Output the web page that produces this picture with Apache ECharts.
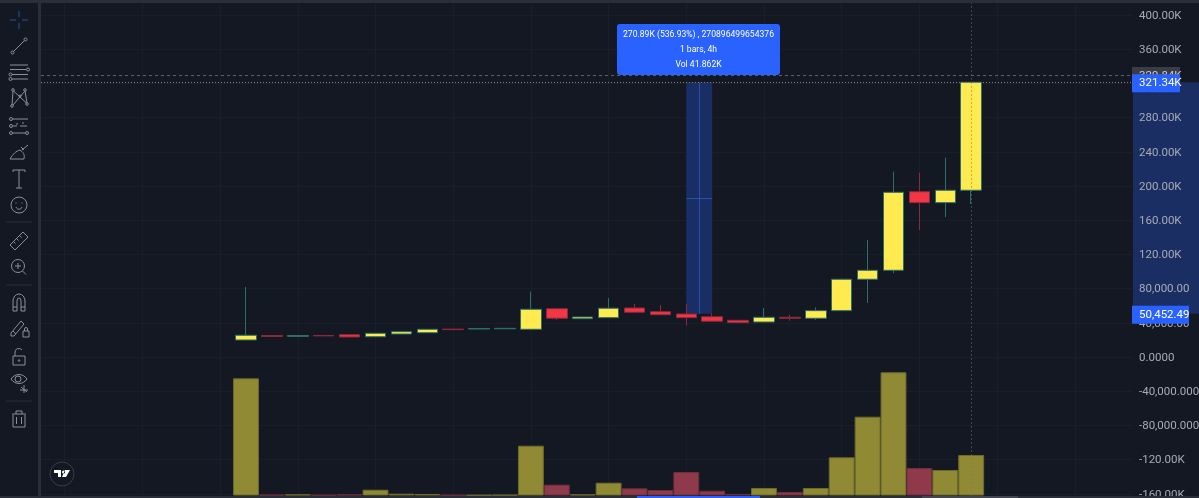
<!DOCTYPE html>
<html>
<head>
<meta charset="utf-8">
<style>html,body{margin:0;padding:0;background:#141823}#c{width:1199px;height:498px}</style>
<script src="https://cdn.jsdelivr.net/npm/echarts@6/dist/echarts.min.js"></script>
</head>
<body>
<div id="c"></div>
<script>
const opens  = [19900,25100,24300,25200,26100,23700,26900,28400,32600,32700,33000,32400,56500,44800,46000,57300,53000,50300,47100,42900,40900,46400,45300,54200,90900,101400,193300,180500,195000];
const closes = [25400,24100,25000,24700,23400,27700,29600,32400,32000,33300,33500,55800,45300,46800,57000,52300,49400,46000,41800,40100,46400,45300,54200,90900,101400,192600,180500,195000,321340];
const lows   = [19900,24000,24200,24600,23300,23600,26800,28300,31900,32600,32900,32200,43300,44700,45500,51500,49000,36600,41500,39900,40700,42500,43300,53800,63200,97900,148500,163400,179000];
const highs  = [81900,25300,25200,25400,26200,28000,29800,32600,32700,33400,33600,76400,57000,46900,69000,62000,60800,62000,51100,43200,57300,49500,58100,91500,136800,216700,215600,233100,321340];
const volumes= [208700,1400,2100,900,2100,10300,3200,2700,900,900,1200,88700,19200,2100,22800,12800,9800,41862,8500,2700,13400,6200,13400,68000,140300,219400,49000,45400,72100];
const gridTicks = [-160000,-120000,-80000,-40000,0,40000,80000,120000,160000,200000,240000,280000,320000,360000,400000];
const tickLabels = {'-160000':'-160.00K','-120000':'-120.00K','-80000':'-80,000.0000','-40000':'-40,000.0000','0':'0.0000','40000':'40,000.00','80000':'80,000.00','120000':'120.00K','160000':'160.00K','200000':'200.00K','240000':'240.00K','280000':'280.00K','360000':'360.00K','400000':'400.00K'};
const timeTicks = [-7,-4,-1,2,5,8,11,14,17,20,23,26,29,32];
const priceFlags = {329840:'329.84K',321340:'321.34K',50452.49:'50,452.49'};
const measureFrom = 50452.49, measureTo = 321340, measureBarA = 17, measureBarB = 18, cursorBar = 28;
const measureText = ['270.89K (536.93%) , 270896499654376','1 bars, 4h','Vol 41.862K'];

const BG='#141823', GRID='#1a1e29', ICON='#8b8f9a', SEP='#2a2e39', FONT='Roboto, "Open Sans", sans-serif';
const candleData = opens.map((o,i)=>[i,o,closes[i],lows[i],highs[i]]);
const volData = volumes.map((v,i)=>({value:[i,v],itemStyle:{color:closes[i]>=opens[i]?'#8f8a33':'#8e3a4b',borderColor:closes[i]>=opens[i]?'#6d6a2c':'#6e2f3d'}}));
const c=(x,y,r)=>`M${x-r} ${y}A${r} ${r} 0 1 0 ${x+r} ${y}A${r} ${r} 0 1 0 ${x-r} ${y}Z`;
const icons=[
 [20,'M0 -9V-3M0 3V9M-9 0H-3M3 0H9','#2a4fa8'],
 [46,c(-6.5,6.5,1.5)+c(6.5,-6.5,1.5)+'M-5.5 5.5L5.5 -5.5'],
 [72,'M-9 -7H9M-9 -2.5H7'+c(9,-2.5,1.5)+'M-7 2.5H9M-7 7H9'+c(-8.5,2.5,1.5)+c(-8.5,7,1.5)],
 [98,c(-6,-8,1.3)+c(6,-8,1.3)+c(-7,8,1.3)+c(8,6,1.3)+c(1,-2,1)+'M-6 -7L-7 7M-5.5 -7L7.5 5M6 -7L-6 7M6 -7L8 5'],
 [126,c(-8,-7,1.5)+'M-6.5 -7H9'+c(-8,0,1.5)+'M-6 0H-2M1 0H8'+c(-8,7,1.5)+c(8,7,1.5)+'M-6.5 7H6.5M-3 -2L-1 -2M3 -3L5 -3'],
 [152,'M-9 7H5C6 2 4 0 1 -2C-3 -1 -6 2 -9 7ZM3 -2L9 -7M2 -5L5 -2'],
 [179,'M-6 -7V-9H6V-7M0 -9V9M-3 9H3'],
 [205,c(0,0,8)+'M-3 2C-2 5 2 5 3 2M-3 -2.5V-1.5M3 -2.5V-1.5'],
 [241,'M-9 4L4 -9L9 -4L-4 9ZM-5.5 0.5L-3.5 2.5M-2.5 -2.5L-0.5 -0.5M0.5 -5.5L2.5 -3.5'],
 [267,c(-1,-1,6.5)+'M3.5 4L7 7.5M-4 -1H2M-1 -4V2'],
 [303,'M-6 8V-2A6 7 0 0 1 6 -2V8H2V-2A2 3 0 0 0 -2 -2V8ZM-6 4H-2M2 4H6'],
 [329,'M-8 4L2 -8L5 -5L-5 7L-8 7ZM-6 2L-3 5M4 2H10V8H4ZM5.5 2V0A1.5 1.5 0 0 1 8.5 0V2'],
 [357,'M-6 -1H6V8H-6ZM-4 -1V-5A4 4 0 0 1 3 -7'+c(0,3.5,.8)],
 [382,'M-8 -3C-4 -9 4 -9 8 -3C4 3 -4 3 -8 -3Z'+c(-1,-3,3)+'M1 8H9M5 3V11M2 5L8 10'],
 [419,'M-6 -4V8H6V-4M-7 -5H7M-3 -5V-8H3V-5M-2.5 -2V5M2.5 -2V5']
];
const shapeOf=(name,d)=>{echarts.graphic.registerShape(name,echarts.graphic.extendPath(d,{}));return name;};
const graphics=[
 {type:'rect',z:5,silent:true,shape:{x:0,y:0,width:38,height:498},style:{fill:BG}},
 {type:'rect',z:5,silent:true,shape:{x:38,y:0,width:3,height:498},style:{fill:SEP}},
 {type:'rect',z:5,silent:true,shape:{x:0,y:0,width:1199,height:3},style:{fill:SEP}},
 {type:'rect',z:5,silent:true,shape:{x:0,y:496,width:1199,height:2},style:{fill:SEP}},
 {type:'rect',z:6,silent:true,shape:{x:637,y:496,width:123,height:2},style:{fill:'#2962ff'}},
 {type:'rect',z:6,silent:true,shape:{x:922,y:496,width:96,height:2},style:{fill:'#434651'}},
 {type:'line',z:6,silent:true,shape:{x1:6,y1:222,x2:32,y2:222},style:{stroke:SEP}},
 {type:'line',z:6,silent:true,shape:{x1:6,y1:285,x2:32,y2:285},style:{stroke:SEP}},
 {type:'line',z:6,silent:true,shape:{x1:6,y1:401,x2:32,y2:401},style:{stroke:SEP}},
 {type:'circle',z:6,silent:true,shape:{cx:62,cy:474,r:12},style:{fill:BG,stroke:'#3a3e49'}},
 {type:shapeOf('tvlogo','M-8 -4H-1V3H-4V-1H-8ZM0 -2A1.6 1.6 0 1 0 3.2 -2A1.6 1.6 0 1 0 0 -2ZM3 -4H8L4 3H0Z'),z:7,silent:true,x:62,y:474,style:{fill:'#ffffff'}},
 {type:'rect',z:20,silent:true,shape:{x:617,y:24,width:163,height:51,r:3},style:{fill:'#2962ff'}}
];
icons.forEach((ic,i)=>graphics.push({type:shapeOf('tool'+i,ic[1]),z:7,silent:true,x:19,y:ic[0],style:{fill:'none',stroke:ic[2]||ICON,lineWidth:1}}));
measureText.forEach((t,i)=>graphics.push({type:'text',z:21,silent:true,x:698.5,y:35+i*14.7,style:{text:t,fill:'#ffffff',font:'8.6px '+FONT,align:'center',verticalAlign:'middle'}}));

const chart=echarts.init(document.getElementById('c'),null,{renderer:'canvas'});
const ls=(color,type)=>({color,type,width:1,opacity:1});
const midX=(measureBarA+measureBarB)/2, midY=(measureFrom+measureTo)/2;
const option={
 animation:false,backgroundColor:BG,
 grid:{left:41,width:1092,top:3,height:492.5,containLabel:false,outerBoundsMode:'none'},
 xAxis:{type:'value',min:-7.915,max:34.247,containShape:false,
  axisLine:{show:false},axisLabel:{show:false},
  axisTick:{show:false,customValues:timeTicks},
  splitLine:{show:true,lineStyle:{color:GRID,width:1}}},
 yAxis:[{type:'value',position:'right',min:-162000,max:414000,
   axisLine:{show:false},
   axisTick:{show:false,customValues:gridTicks},
   splitLine:{show:true,lineStyle:{color:GRID,width:1}},
   axisLabel:{show:true,margin:-1,customValues:gridTicks.filter(v=>v!==320000).concat([329840,321340,50452.49]),
     showMinLabel:true,showMaxLabel:true,hideOverlap:false,
     color:'#a8abb3',fontSize:11.5,fontFamily:FONT,padding:[2,0,0,0],
     formatter:v=>{
       if(v===329840)return '{g|'+priceFlags[v]+'}';
       if(v===321340)return '{b|'+priceFlags[v]+'}';
       if(v===50452.49)return '{w|'+priceFlags[v]+'}';
       return '{t|'+(tickLabels[v]||'')+'}';
     },
     rich:{
       t:{color:'#a8abb3',fontSize:11.5,fontFamily:FONT,padding:[0,0,0,7]},
       g:{backgroundColor:'#3a3d45',color:'#c8cad0',fontSize:11.5,fontFamily:FONT,padding:[3,0,3,7],width:41,align:'left'},
       b:{backgroundColor:'#2962ff',color:'#ffffff',fontSize:11.5,fontFamily:FONT,padding:[3,0,3,7],width:41,align:'left'},
       w:{backgroundColor:'#2962ff',color:'#ffffff',fontSize:11.5,fontFamily:FONT,padding:[3,0,3,7],width:50,align:'left'}
     }}},
  {type:'value',position:'right',min:0,max:877000,show:false,splitLine:{show:false}}],
 series:[
  {type:'candlestick',xAxisIndex:0,yAxisIndex:0,z:3,barWidth:21,encode:{x:0,y:[1,2,3,4]},data:candleData,
   itemStyle:{color:'#ffeb4f',color0:'#f23645',borderColor:'#2a6f6a',borderColor0:'#8b2a3a',borderWidth:1},
   markArea:{silent:true,z:1,itemStyle:{color:'#1a2e66'},data:[[{xAxis:measureBarA,yAxis:measureFrom},{xAxis:measureBarB,yAxis:measureTo}]]},
   markLine:{silent:true,symbol:'none',animation:false,label:{show:false},
    data:[
     {yAxis:329840,lineStyle:ls('#5d6068',[3,3])},
     {yAxis:measureTo,lineStyle:ls('#7f8186',[1,2])},
     {xAxis:cursorBar,lineStyle:ls('#6f727a',[1,3])},
     [{xAxis:midX,yAxis:measureFrom,lineStyle:ls('#2b4ea8','solid')},{xAxis:midX,yAxis:measureTo,lineStyle:ls('#2b4ea8','solid')}],
     [{xAxis:measureBarA,yAxis:midY,lineStyle:ls('#2b4ea8','solid')},{xAxis:measureBarB,yAxis:midY,lineStyle:ls('#2b4ea8','solid')}]
    ]}},
  {type:'bar',xAxisIndex:0,yAxisIndex:1,z:4,barWidth:25.9,data:volData,itemStyle:{borderWidth:1}}
 ],
 graphic:graphics
};
chart.setOption(option);
// blue price-range strip on the price scale, placed from the measured prices
const yTop=chart.convertToPixel({yAxisIndex:0},measureTo), yBot=chart.convertToPixel({yAxisIndex:0},measureFrom);
chart.setOption({graphic:graphics.concat([{type:'rect',z:-1,silent:true,shape:{x:1133,y:yTop,width:66,height:yBot-yTop},style:{fill:'#1b2e63'}}])});
</script>
</body>
</html>
